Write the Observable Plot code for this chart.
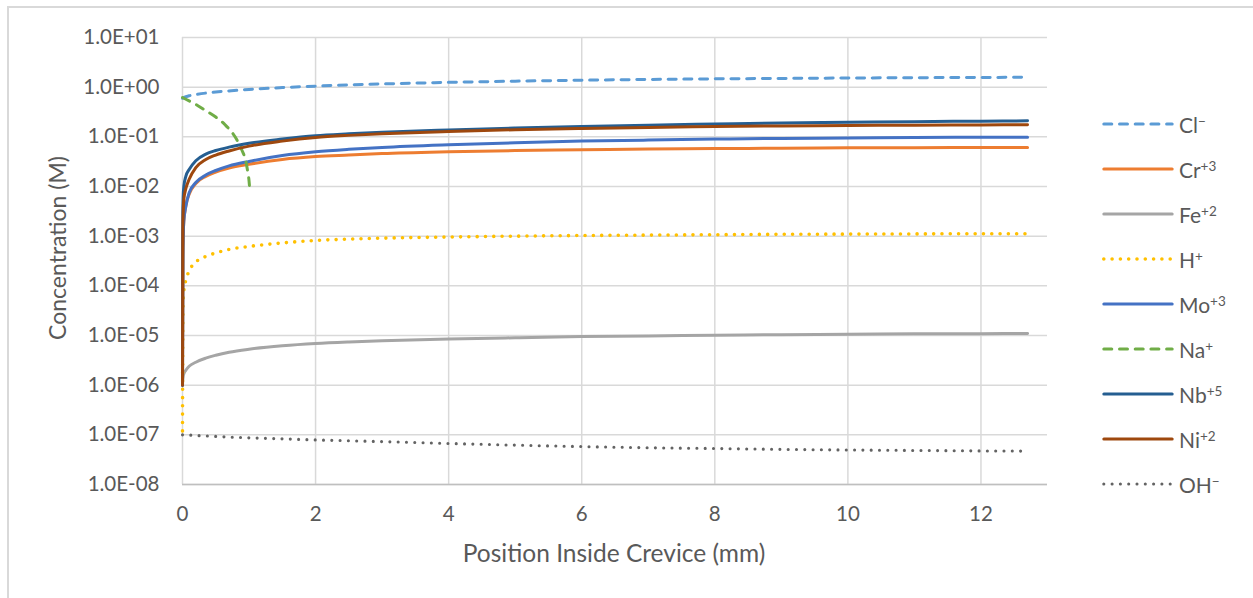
<!DOCTYPE html>
<html>
<head>
<meta charset="utf-8">
<script src="https://cdn.jsdelivr.net/npm/d3@7"></script>
<script src="https://cdn.jsdelivr.net/npm/@observablehq/plot@0.6"></script>
<style>
  html, body { margin: 0; padding: 0; background: #fff; }
  #wrap { position: relative; width: 1253px; height: 598px; overflow: hidden; font-family: Lato, "Open Sans", sans-serif; color: #595959; }
  #frame { position: absolute; left: 7px; top: 6px; width: 1400px; height: 800px; border-left: 2px solid #d9d9d9; border-top: 2px solid #d9d9d9; box-sizing: border-box; }
  #chart { position: absolute; left: 0; top: 0; }
  .title { position: absolute; white-space: nowrap; color: #595959; }
  #ytitle { left: 57px; top: 248px; font-size: 23px; transform: translate(-50%, -50%) rotate(-90deg); }
  #xtitle { left: 614px; top: 552px; font-size: 24.5px; transform: translate(-50%, -50%); }
  #legend { position: absolute; left: 1102px; top: 101.5px; }
  .item { height: 45px; display: flex; align-items: center; }
  .item svg { display: block; margin-right: 5px; }
  .item span { font-size: 21px; color: #595959; }
  .item sup { font-size: 13.5px; vertical-align: 0.55em; line-height: 0; }
</style>
</head>
<body>
<div id="wrap">
  <div id="frame"></div>
  <div id="chart"></div>
  <div class="title" id="ytitle">Concentration (M)</div>
  <div class="title" id="xtitle">Position Inside Crevice (mm)</div>
  <div id="legend"></div>
</div>
<script>
// ---------- data ----------
const xTicks = [0, 2, 4, 6, 8, 10, 12];
const yTicks = [10, 1, 0.1, 0.01, 0.001, 1e-4, 1e-5, 1e-6, 1e-7, 1e-8];
const yTickLabels = ["1.0E+01", "1.0E+00", "1.0E-01", "1.0E-02", "1.0E-03", "1.0E-04", "1.0E-05", "1.0E-06", "1.0E-07", "1.0E-08"];

const seriesNames   = ["Cl", "Cr", "Fe", "H", "Mo", "Na", "Nb", "Ni", "OH"];
const seriesCharges = ["\u2212", "+3", "+2", "+", "+3", "+", "+5", "+2", "\u2212"];

// position inside crevice (mm)
const xs = [0, 0.005, 0.01, 0.02, 0.05, 0.1, 0.2, 0.35, 0.5, 0.7, 1, 1.5, 2, 2.5, 3, 4, 5, 6, 7, 8, 9, 10, 11, 12, 12.7];

const clValues = [0.6, 0.6, 0.61, 0.62, 0.64, 0.67, 0.71, 0.76, 0.8, 0.84, 0.9, 0.98, 1.05, 1.11, 1.16, 1.25, 1.32, 1.38, 1.43, 1.47, 1.5, 1.53, 1.55, 1.57, 1.58];
const crValues = [1e-6, 4e-4, 1e-3, 2e-3, 4e-3, 7e-3, 0.0115, 0.016, 0.0195, 0.0235, 0.028, 0.035, 0.04, 0.043, 0.046, 0.05, 0.053, 0.055, 0.057, 0.058, 0.059, 0.06, 0.0605, 0.061, 0.061];
const feValues = [1e-6, 1.3e-6, 1.5e-6, 1.7e-6, 2.0e-6, 2.4e-6, 2.9e-6, 3.5e-6, 4.0e-6, 4.6e-6, 5.3e-6, 6.2e-6, 6.9e-6, 7.4e-6, 7.8e-6, 8.5e-6, 9.0e-6, 9.5e-6, 9.8e-6, 1.01e-5, 1.04e-5, 1.06e-5, 1.08e-5, 1.09e-5, 1.1e-5];
const hValues  = [1.2e-7, 2e-5, 5e-5, 8e-5, 1.3e-4, 2.0e-4, 3.0e-4, 3.9e-4, 4.6e-4, 5.4e-4, 6.2e-4, 7.3e-4, 8.2e-4, 8.7e-4, 9.1e-4, 9.6e-4, 1.0e-3, 1.03e-3, 1.05e-3, 1.07e-3, 1.09e-3, 1.1e-3, 1.11e-3, 1.12e-3, 1.12e-3];
const moValues = [1e-6, 4e-4, 1e-3, 2e-3, 4e-3, 7.5e-3, 0.012, 0.017, 0.021, 0.026, 0.032, 0.042, 0.05, 0.056, 0.061, 0.069, 0.076, 0.082, 0.086, 0.09, 0.093, 0.095, 0.097, 0.098, 0.098];
const nbValues = [1e-6, 3e-3, 6e-3, 0.01, 0.016, 0.022, 0.033, 0.045, 0.053, 0.062, 0.074, 0.09, 0.105, 0.115, 0.124, 0.138, 0.15, 0.162, 0.172, 0.181, 0.189, 0.196, 0.202, 0.207, 0.21];
const niValues = [1e-6, 1.5e-3, 3e-3, 5.5e-3, 9e-3, 0.014, 0.024, 0.035, 0.043, 0.052, 0.065, 0.082, 0.097, 0.107, 0.115, 0.128, 0.139, 0.148, 0.155, 0.161, 0.166, 0.169, 0.172, 0.174, 0.175];
const ohValues = [1e-7, 1e-7, 1e-7, 1e-7, 1e-7, 9.9e-8, 9.7e-8, 9.5e-8, 9.3e-8, 9.0e-8, 8.7e-8, 8.3e-8, 7.9e-8, 7.6e-8, 7.3e-8, 6.7e-8, 6.2e-8, 5.8e-8, 5.5e-8, 5.3e-8, 5.1e-8, 4.95e-8, 4.85e-8, 4.75e-8, 4.7e-8];

// Na+ only spans the first millimetre
const naX      = [0, 0.1, 0.2, 0.33, 0.5, 0.64, 0.79, 0.89, 0.95, 0.98, 1.0, 1.01];
const naValues = [0.62, 0.53, 0.45, 0.35, 0.25, 0.175, 0.10, 0.055, 0.033, 0.02, 0.013, 0.009];

// ---------- styles ----------
const seriesColors = ["#5B9BD5", "#ED7D31", "#A5A5A5", "#FFC000", "#4472C4", "#70AD47", "#255E91", "#9E480E", "#636363"];
const seriesDash   = ["8,7.7", null, null, "0,8.3", null, "8,7.7", null, null, "0,8.3"];
const seriesWidth  = [3, 3, 3, 3.6, 3, 3, 3, 3, 3.1];

const seriesX = [xs, xs, xs, xs, xs, naX, xs, xs, xs];
const seriesY = [clValues, crValues, feValues, hValues, moValues, naValues, nbValues, niValues, ohValues];

// ---------- build table ----------
const rows = [];
seriesNames.forEach((name, i) => {
  seriesX[i].forEach((x, j) => rows.push({ series: name, x, y: seriesY[i][j] }));
});

const labelOf = new Map(yTicks.map((t, i) => [t, yTickLabels[i]]));

const lineMarks = seriesNames.map((name, i) =>
  Plot.line(rows.filter(r => r.series === name), {
    x: "x", y: "y",
    stroke: seriesColors[i],
    strokeWidth: seriesWidth[i],
    strokeDasharray: seriesDash[i] || undefined,
    strokeLinecap: "round",
    strokeLinejoin: "round",
    curve: "monotone-x"
  })
);

const chart = Plot.plot({
  width: 1253,
  height: 598,
  marginLeft: 182,
  marginRight: 206,
  marginTop: 37,
  marginBottom: 114,
  style: { fontFamily: "Lato, 'Open Sans', sans-serif", fontSize: "20.5px", color: "#595959", background: "transparent", overflow: "visible" },
  x: { domain: [0, 13], ticks: xTicks, tickSize: 0, tickPadding: 22, label: null },
  y: { type: "log", domain: [1e-8, 10], ticks: yTicks, tickSize: 0, tickPadding: 23, label: null, tickFormat: d => labelOf.get(d) ?? "" },
  marks: [
    Plot.gridY(yTicks, { stroke: "#d9d9d9", strokeOpacity: 1, strokeWidth: 1.5 }),
    Plot.gridX(xTicks, { stroke: "#d9d9d9", strokeOpacity: 1, strokeWidth: 1.5 }),
    Plot.ruleY([1e-8], { stroke: "#bfbfbf", strokeWidth: 1.5 }),
    ...lineMarks
  ]
});
document.getElementById("chart").appendChild(chart);

// ---------- legend ----------
const legend = document.getElementById("legend");
seriesNames.forEach((name, i) => {
  const item = document.createElement("div");
  item.className = "item";
  const dash = seriesDash[i] ? `stroke-dasharray="${seriesDash[i]}"` : "";
  item.innerHTML =
    `<svg width="72" height="10"><line x1="1.8" y1="5" x2="70.2" y2="5" stroke="${seriesColors[i]}" stroke-width="${seriesWidth[i]}" stroke-linecap="round" ${dash}></line></svg>` +
    `<span>${name}<sup>${seriesCharges[i]}</sup></span>`;
  legend.appendChild(item);
});
</script>
</body>
</html>
